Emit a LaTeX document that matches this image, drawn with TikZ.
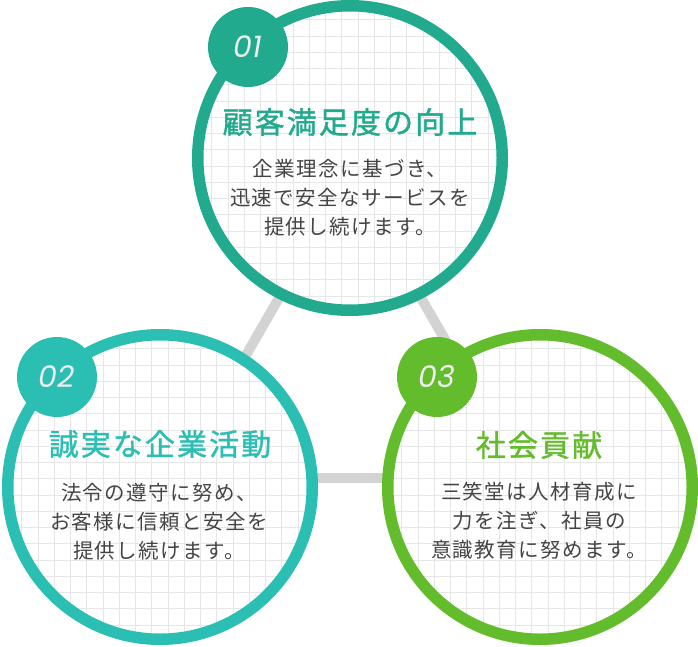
\documentclass[tikz,border=0pt]{standalone}
\usepackage{fontspec}
\newfontfamily\jpbody{Noto Sans CJK JP}[LetterSpace=7]
\newfontfamily\jptitle{Noto Sans CJK JP}[LetterSpace=7, FakeBold=1.3]
\newfontfamily\numfont{Poppins}
\definecolor{colA}{HTML}{21AA8E}
\definecolor{colB}{HTML}{2BBFB4}
\definecolor{colC}{HTML}{63BC2C}
\definecolor{linkgray}{HTML}{D3D3D3}
\definecolor{gridgray}{HTML}{E6E6E6}
\definecolor{bodytext}{HTML}{444444}
\definecolor{numtext}{HTML}{EEEEEE}
\tikzset{
  disc/.style={circle, minimum size=304.5pt, inner sep=0pt, fill=white},
  ringline/.style={line width=11.5pt, draw=#1},
  gridline/.style={line width=1.1pt, draw=gridgray},
  link/.style={line width=10pt, draw=linkgray},
  badge/.style={circle, minimum size=80pt, inner sep=0pt, fill=#1, text=numtext,
    font=\numfont\itshape\fontsize{30pt}{30pt}\selectfont},
  titletext/.style={text=#1, inner sep=0pt, font=\jptitle\fontsize{30pt}{32pt}\selectfont},
  bodyblock/.style={text=bodytext, inner sep=0pt, align=center,
    font=\jpbody\fontsize{20.5pt}{29pt}\selectfont}
}
\newcommand{\gridin}[1]{%
  \begin{scope}[shift={(#1.center)}]
    \clip (0,0) circle (150pt);
    \foreach \k in {-10,...,9} {
      \draw[gridline] ({\k*16.25+8.125},-160) -- ({\k*16.25+8.125},160);
      \draw[gridline] (-160,{\k*16.25+8.125}) -- (160,{\k*16.25+8.125});
    }
  \end{scope}}
\begin{document}
\begin{tikzpicture}[x=1pt,y=-1pt]
\useasboundingbox (0,0) rectangle (698,647);
\fill[white] (0,0) rectangle (698,647);
% connector triangle
\coordinate (t1) at (350,175);
\coordinate (t2) at (175,478);
\coordinate (t3) at (525,478);
\draw[link] (t1) -- (t2);
\draw[link] (t2) -- (t3);
\draw[link] (t3) -- (t1);
% circles
\node[disc] (c1) at (350,158) {};
\node[disc] (c2) at (160,487) {};
\node[disc] (c3) at (540,487) {};
\gridin{c1}
\gridin{c2}
\gridin{c3}
\draw[ringline=colA] (c1.center) circle (152.25pt);
\draw[ringline=colB] (c2.center) circle (152.25pt);
\draw[ringline=colC] (c3.center) circle (152.25pt);
% badges
\node[badge=colA] (b1) at (248,47) {01};
\node[badge=colB] (b2) at (57,377) {02};
\node[badge=colC] (b3) at (437,377) {03};
% titles
\node[titletext=colA] (h1) at (350,122) {顧客満足度の向上};
\node[titletext=colB] (h2) at (160,444) {誠実な企業活動};
\node[titletext=colC] (h3) at (539,445) {社会貢献};
% bodies
\node[bodyblock] (p1) at (350,198) {企業理念に基づき、\\迅速で安全なサービスを\\提供し続けます。};
\node[bodyblock] (p2) at (159,521.5) {法令の遵守に努め、\\お客様に信頼と安全を\\提供し続けます。};
\node[bodyblock] (p3) at (539,521) {三笑堂は人材育成に\\力を注ぎ、社員の\\意識教育に努めます。};
\end{tikzpicture}
\end{document}
